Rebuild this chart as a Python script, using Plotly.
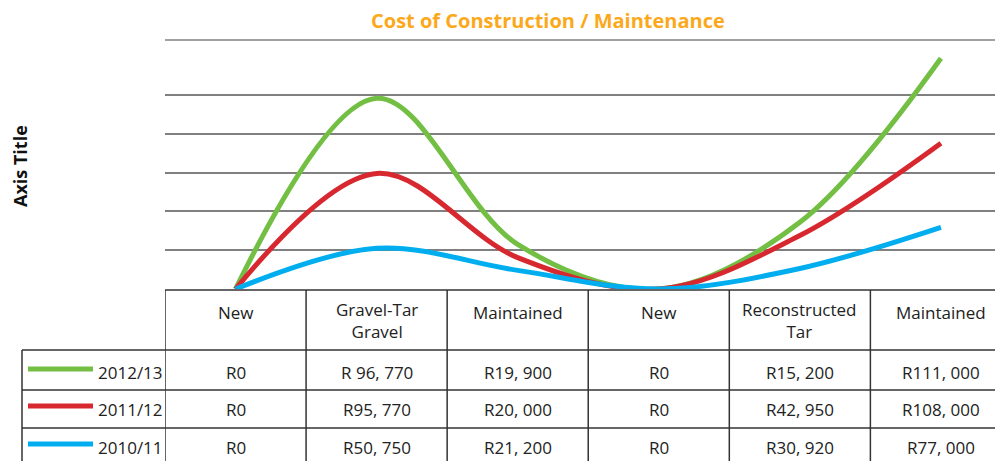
import plotly.graph_objects as go

# ---- data ----
categories = ["New", "Gravel-Tar<br>Gravel", "Maintained", "New", "Reconstructed<br>Tar", "Maintained"]
series_names = ["2012/13", "2011/12", "2010/11"]
# plotted values (thousand Rand)
vals_2012_13 = [0, 98.4, 23.0, 0, 34.4, 119.0]
vals_2011_12 = [0, 59.6, 16.2, 0, 27.6, 75.2]
vals_2010_11 = [0, 21.0, 9.6, 0, 10.6, 31.8]
# data-table labels
table_2012_13 = ["R0", "R 96, 770", "R19, 900", "R0", "R15, 200", "R111, 000"]
table_2011_12 = ["R0", "R95, 770", "R20, 000", "R0", "R42, 950", "R108, 000"]
table_2010_11 = ["R0", "R50, 750", "R21, 200", "R0", "R30, 920", "R77, 000"]
grid_ticks = [20, 40, 60, 80, 100]

colors = ["#72BF44", "#D7282F", "#00AEEF"]
series_vals = [vals_2012_13, vals_2011_12, vals_2010_11]
table_rows = [table_2012_13, table_2011_12, table_2010_11]

O = 8  # page body margin offset
W, H = 1003 - O, 461 - O
L, R_, T, B = 165 - O, 0, 40 - O, 172
PW, PH = W - L - R_, H - T - B
XMAX = 5.44
YMAX = 128.4

def px(xpix):
    return (xpix - O - L) / PW

def py(ypix):
    return (H - B - (ypix - O)) / PH

FONT = "Open Sans"
TXT = "#222222"
FS = 17

fig = go.Figure()
xs = list(range(len(categories)))
for name, v, c in zip(series_names, series_vals, colors):
    fig.add_trace(go.Scatter(x=xs, y=v, mode="lines", name=name,
                             line=dict(color=c, width=5, shape="spline", smoothing=1.0),
                             showlegend=False, hoverinfo="skip"))

shapes = []
ann = []
LINE = dict(color="#333333", width=1.5)

# top plot border line
shapes.append(dict(type="line", xref="paper", yref="paper", x0=0, x1=1, y0=1, y1=1,
                   line=dict(color="#808080", width=1.5)))

# table geometry (page pixels)
y_head_top = 290
row_bounds = [350, 390, 428, 470]

shapes.append(dict(type="line", xref="paper", yref="paper", x0=0, x1=1,
                   y0=py(y_head_top), y1=py(y_head_top), line=LINE))
for yb in row_bounds[:-1]:
    shapes.append(dict(type="line", xref="paper", yref="paper", x0=px(22), x1=1,
                       y0=py(yb), y1=py(yb), line=LINE))
for i in range(len(categories)):
    shapes.append(dict(type="line", xref="x", yref="paper", x0=i - 0.5, x1=i - 0.5,
                       y0=py(y_head_top), y1=py(470), line=LINE))
shapes.append(dict(type="line", xref="paper", yref="paper", x0=px(22), x1=px(22),
                   y0=py(350), y1=py(470), line=LINE))

# header labels
for i, cat in enumerate(categories):
    yc = 320 if "<br>" in cat else 312
    ann.append(dict(x=i, xref="x", y=py(yc), yref="paper", text=cat, showarrow=False,
                    font=dict(family=FONT, size=FS, color=TXT), xanchor="center", yanchor="middle"))

# rows
row_text_y = [372, 409, 447]
for r, (name, labels, c) in enumerate(zip(series_names, table_rows, colors)):
    yc = row_text_y[r]
    for i, lab in enumerate(labels):
        ann.append(dict(x=i, xref="x", y=py(yc), yref="paper", text=lab, showarrow=False,
                        font=dict(family=FONT, size=FS, color=TXT), xanchor="center", yanchor="middle"))
    ann.append(dict(x=px(165), xref="paper", y=py(yc), yref="paper", text=name, showarrow=False,
                    font=dict(family=FONT, size=FS, color=TXT), xanchor="right", yanchor="middle"))
    ly = yc - 3
    shapes.append(dict(type="line", xref="paper", yref="paper", x0=px(28), x1=px(93),
                       y0=py(ly), y1=py(ly), line=dict(color=c, width=5)))

# title
ann.append(dict(x=px(548), xref="paper", y=py(21), yref="paper", text="<b>Cost of Construction / Maintenance</b>",
                showarrow=False, font=dict(family=FONT, size=20, color="#FBA91B"),
                xanchor="center", yanchor="middle"))
# axis title
ann.append(dict(x=px(20), xref="paper", y=py(166), yref="paper", text="<b>Axis Title</b>",
                showarrow=False, textangle=-90, borderpad=0,
                font=dict(family=FONT, size=18, color="#111111"),
                xanchor="center", yanchor="middle"))

fig.update_layout(
    width=W, height=H,
    margin=dict(l=L, r=R_, t=T, b=B, pad=0),
    paper_bgcolor="white", plot_bgcolor="white",
    xaxis=dict(range=[-0.5, XMAX], showgrid=False, zeroline=False, showticklabels=False,
               showline=False, fixedrange=True),
    yaxis=dict(range=[0, YMAX], tickvals=grid_ticks, showgrid=True, gridcolor="#808080",
               gridwidth=1.5, zeroline=False, showticklabels=False, showline=False, fixedrange=True),
    shapes=shapes, annotations=ann,
)

fig.write_html("out.html", config={"displayModeBar": False})
